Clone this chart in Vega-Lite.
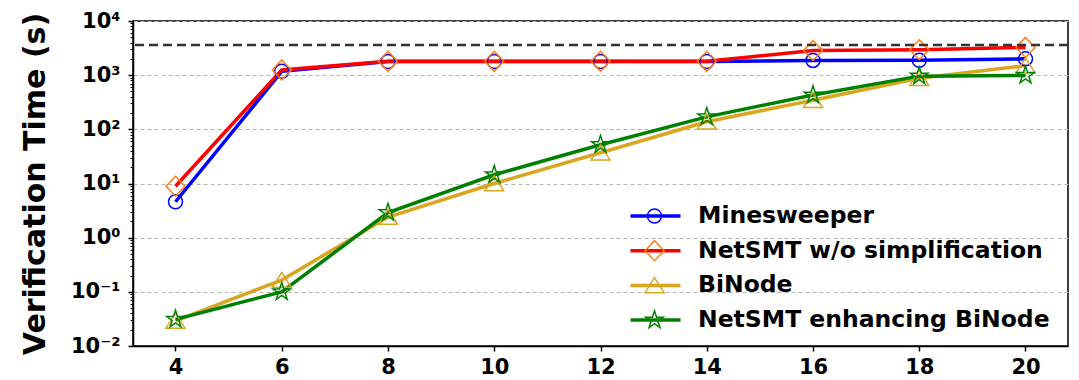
{
  "$schema": "https://vega.github.io/schema/vega-lite/v6.json",
  "width": 935,
  "height": 325,
  "autosize": {"type": "none"},
  "padding": {"left": 133, "top": 21, "right": 11, "bottom": 34},
  "background": "white",
  "config": {
    "view": {"stroke": "black", "strokeWidth": 1.5},
    "font": "DejaVu Sans",
    "axis": {
      "labelFont": "DejaVu Sans",
      "labelFontWeight": "bold",
      "labelColor": "black",
      "labelFontSize": 21,
      "domainColor": "black",
      "domainWidth": 1.5,
      "tickColor": "black",
      "tickWidth": 1.5,
      "tickSize": 5,
      "labelFlush": false,
      "labelOverlap": false,
      "titleFont": "DejaVu Sans",
      "titleFontWeight": "bold",
      "titleColor": "black"
    }
  },
  "data": {
    "values": [
      {"n": 4, "method": "Minesweeper", "time": 4.6},
      {"n": 6, "method": "Minesweeper", "time": 1180},
      {"n": 8, "method": "Minesweeper", "time": 1780},
      {"n": 10, "method": "Minesweeper", "time": 1780},
      {"n": 12, "method": "Minesweeper", "time": 1780},
      {"n": 14, "method": "Minesweeper", "time": 1780},
      {"n": 16, "method": "Minesweeper", "time": 1870},
      {"n": 18, "method": "Minesweeper", "time": 1880},
      {"n": 20, "method": "Minesweeper", "time": 2000},
      {"n": 4, "method": "NetSMT w/o simplification", "time": 8.9},
      {"n": 6, "method": "NetSMT w/o simplification", "time": 1250},
      {"n": 8, "method": "NetSMT w/o simplification", "time": 1800},
      {"n": 10, "method": "NetSMT w/o simplification", "time": 1800},
      {"n": 12, "method": "NetSMT w/o simplification", "time": 1800},
      {"n": 14, "method": "NetSMT w/o simplification", "time": 1800},
      {"n": 16, "method": "NetSMT w/o simplification", "time": 2850},
      {"n": 18, "method": "NetSMT w/o simplification", "time": 2950},
      {"n": 20, "method": "NetSMT w/o simplification", "time": 3250},
      {"n": 4, "method": "BiNode", "time": 0.029},
      {"n": 6, "method": "BiNode", "time": 0.165},
      {"n": 8, "method": "BiNode", "time": 2.4},
      {"n": 10, "method": "BiNode", "time": 10},
      {"n": 12, "method": "BiNode", "time": 37},
      {"n": 14, "method": "BiNode", "time": 138},
      {"n": 16, "method": "BiNode", "time": 345},
      {"n": 18, "method": "BiNode", "time": 880},
      {"n": 20, "method": "BiNode", "time": 1500},
      {"n": 4, "method": "NetSMT enhancing BiNode", "time": 0.031},
      {"n": 6, "method": "NetSMT enhancing BiNode", "time": 0.1},
      {"n": 8, "method": "NetSMT enhancing BiNode", "time": 2.9},
      {"n": 10, "method": "NetSMT enhancing BiNode", "time": 14.5},
      {"n": 12, "method": "NetSMT enhancing BiNode", "time": 52},
      {"n": 14, "method": "NetSMT enhancing BiNode", "time": 170},
      {"n": 16, "method": "NetSMT enhancing BiNode", "time": 430},
      {"n": 18, "method": "NetSMT enhancing BiNode", "time": 960},
      {"n": 20, "method": "NetSMT enhancing BiNode", "time": 990}
    ]
  },
  "layer": [
    {
      "mark": {"type": "line", "strokeWidth": 3.5},
      "encoding": {
        "x": {
          "field": "n", "type": "quantitative",
          "scale": {"domain": [3.2, 20.8], "nice": false, "zero": false},
          "axis": {"values": [4, 6, 8, 10, 12, 14, 16, 18, 20], "title": null, "grid": false, "labelPadding": 5}
        },
        "y": {
          "field": "time", "type": "quantitative",
          "scale": {"type": "log", "domain": [0.01, 10000], "nice": false},
          "axis": {
            "values": [0.01, 0.1, 1, 10, 100, 1000, 10000],
            "labelExpr": "'10' + (datum.value < 1 ? '⁻' : '') + ['⁰','¹','²','³','⁴'][abs(round(log(datum.value)/LN10))]",
            "grid": true, "gridColor": "#b5b5b5", "gridDash": [4, 3], "gridWidth": 1,
            "labelPadding": 8,
            "title": "Verification Time (s)", "titleFontSize": 30, "titlePadding": 20
          }
        },
        "color": {
          "field": "method", "type": "nominal",
          "sort": ["Minesweeper", "NetSMT w/o simplification", "BiNode", "NetSMT enhancing BiNode"],
          "scale": {"range": ["#0000ff", "#ff0000", "#daa520", "#008000"]},
          "legend": {
            "orient": "none", "legendX": 495.5, "legendY": 180, "padding": 0,
            "title": null, "symbolType": "stroke", "symbolSize": 2500, "symbolStrokeWidth": 3.5,
            "clipHeight": 30, "rowPadding": 4.7, "labelOffset": 15.5,
            "labelFont": "DejaVu Sans", "labelFontWeight": "bold", "labelFontSize": 23.5, "labelColor": "black", "labelLimit": 600
          }
        }
      }
    },
    {
      "mark": {"type": "point", "filled": false, "strokeWidth": 1.5, "size": 2500, "opacity": 1},
      "encoding": {
        "x": {
          "field": "n", "type": "quantitative",
          "axis": {"values": [4, 6, 8, 10, 12, 14, 16, 18, 20], "title": null, "grid": false, "labelPadding": 5}
        },
        "y": {
          "field": "time", "type": "quantitative",
          "axis": {
            "orient": "left",
            "values": [0.02,0.03,0.04,0.05,0.06,0.07,0.08,0.09,0.2,0.3,0.4,0.5,0.6,0.7,0.8,0.9,2,3,4,5,6,7,8,9,20,30,40,50,60,70,80,90,200,300,400,500,600,700,800,900,2000,3000,4000,5000,6000,7000,8000,9000],
            "labels": false, "domain": false, "grid": false, "tickSize": 3, "tickWidth": 1, "title": null
          }
        },
        "stroke": {
          "field": "method", "type": "nominal",
          "scale": {
            "domain": ["Minesweeper", "NetSMT w/o simplification", "BiNode", "NetSMT enhancing BiNode"],
            "range": ["#0000ff", "#ff7f0e", "#daa520", "#008000"]
          },
          "legend": {
            "orient": "none", "legendX": 495.5, "legendY": 180, "padding": 0,
            "title": null, "symbolSize": 2500, "symbolStrokeWidth": 1.5,
            "clipHeight": 30, "rowPadding": 4.7, "labelOffset": 15.5,
            "labelFont": "DejaVu Sans", "labelFontWeight": "bold", "labelFontSize": 23.5, "labelOpacity": 0, "labelLimit": 600
          }
        },
        "shape": {
          "field": "method", "type": "nominal",
          "scale": {
            "domain": ["Minesweeper", "NetSMT w/o simplification", "BiNode", "NetSMT enhancing BiNode"],
            "range": [
              "M0.28,0C0.28,0.1546 0.1546,0.28 0,0.28C-0.1546,0.28 -0.28,0.1546 -0.28,0C-0.28,-0.1546 -0.1546,-0.28 0,-0.28C0.1546,-0.28 0.28,-0.1546 0.28,0Z",
              "M0,-0.4L0.38,0L0,0.4L-0.38,0Z",
              "M0,-0.31L0.38,0.29L-0.38,0.29Z",
              "M0,-0.37L0.083,-0.114L0.352,-0.114L0.134,0.044L0.217,0.299L0,0.141L-0.217,0.299L-0.134,0.044L-0.352,-0.114L-0.083,-0.114Z"
            ]
          },
          "legend": {
            "orient": "none", "legendX": 495.5, "legendY": 180, "padding": 0,
            "title": null, "symbolSize": 2500, "symbolStrokeWidth": 1.5,
            "clipHeight": 30, "rowPadding": 4.7, "labelOffset": 15.5,
            "labelFont": "DejaVu Sans", "labelFontWeight": "bold", "labelFontSize": 23.5, "labelOpacity": 0, "labelLimit": 600
          }
        }
      }
    },
    {
      "data": {"values": [{"limit": 3600}]},
      "mark": {"type": "rule", "color": "#333333", "strokeWidth": 2.5, "strokeDash": [9, 5]},
      "encoding": {
        "y": {"field": "limit", "type": "quantitative", "axis": null}
      }
    }
  ],
  "resolve": {"scale": {"y": "shared"}, "axis": {"y": "independent"}}
}
